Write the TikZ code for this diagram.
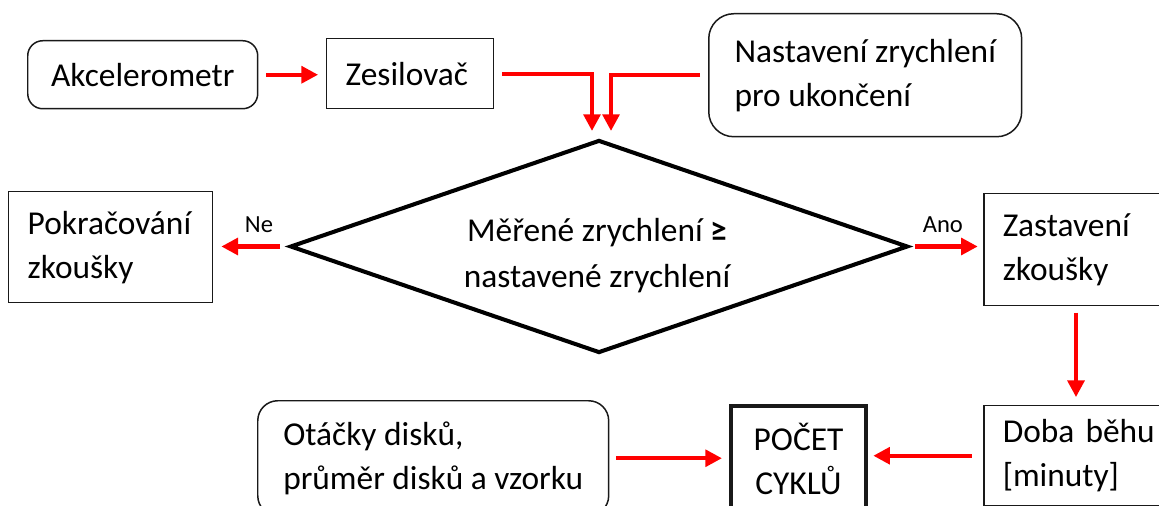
\documentclass[tikz,border=0pt]{standalone}
\usepackage{fontspec}
\setmainfont{Carlito}
\usepackage{tikz}
\usetikzlibrary{calc,arrows.meta,positioning,shapes.geometric}
\definecolor{flowRed}{RGB}{255,0,0}
\definecolor{flowInk}{RGB}{25,25,25}

\begin{document}
\begin{tikzpicture}[x=0.02cm,y=-0.02cm,
  box/.style={draw=flowInk, line width=0.85pt, anchor=north west, inner ysep=0pt,
    font=\fontsize{19}{25}\selectfont, align=left},
  roundbox/.style={box, rounded corners=#1},
  flow/.style={draw=flowRed, line width=2.3pt, -{Triangle[length=9.5pt,width=9.5pt]}},
  tag/.style={font=\fontsize{14}{16}\selectfont, inner sep=1pt}]
\useasboundingbox (0,0) rectangle (1159,506);
\clip (0,0) rectangle (1159,506);

% top row
\node[roundbox=0.3cm, minimum width=4.6cm, minimum height=1.36cm, align=center] (akc) at (27,40) {Akcelerometr};
\node[box, minimum width=3.34cm, minimum height=1.4cm, text width=2.58cm, inner xsep=0.38cm] (zes) at (326,38) {Zesilovač};
\node[roundbox=0.5cm, minimum width=6.26cm, minimum height=2.46cm] (nast) at (708,13) {Nastavení zrychlení\\pro ukončení};

% decision
\node[draw=black, line width=2.3pt, diamond, aspect=2.9, minimum width=12.36cm, minimum height=4.26cm,
  inner sep=0pt] (test) at (599,246.5) {};
\node[align=center, font=\fontsize{19}{26.6}\selectfont] (testtext) at ($(test)+(-2,9)$) {Měřené zrychlení {\bfseries ≥}\\nastavené zrychlení};
\node[box, minimum width=4.08cm, minimum height=2.22cm, text width=3.32cm, inner xsep=0.38cm] (pokr) at (8,191) {Pokračování\\zkoušky};
\node[box, minimum width=4.3cm, minimum height=2.24cm, text width=3.54cm, inner xsep=0.38cm] (zast) at (983,193) {Zastavení\\zkoušky};

% bottom row
\node[roundbox=0.4cm, minimum width=7.02cm, minimum height=2.3cm] (otacky) at (257,400) {Otáčky disků,\\průměr disků a vzorku};
\node[box, line width=2.3pt, minimum width=2.7cm, minimum height=2.1cm, align=center] (pocet) at (729,404) {POČET\\CYKLŮ};
\node[box, minimum width=4.3cm, minimum height=2.0cm, text width=3.54cm, inner xsep=0.38cm] (doba) at (983,405) {Doba běhu\\{[minuty]}};

% connectors
\draw[flow, shorten <=4.5pt, shorten >=4.5pt] (akc.east) -- (akc.east -| zes.west);
\draw[flow, shorten <=4.5pt, shorten >=4pt] (zes.east) -| ($(test.north)+(-7,0)$);
\draw[flow, shorten <=4.5pt, shorten >=4pt] (nast.west) -| ($(test.north)+(12,0)$);
\draw[flow, shorten <=4.5pt, shorten >=4.5pt] (test.west) -- (test.west -| pokr.east)
  node[tag, pos=0.39, above=5.5pt] {Ne};
\draw[flow, shorten <=3pt, shorten >=3pt] (test.east) -- (test.east -| zast.west)
  node[tag, pos=0.45, above=5.5pt] {Ano};
\draw[flow, shorten <=3.5pt, shorten >=4.5pt] ($(zast.south west)+(93,0)$) -- ($(doba.north west)+(93,0)$);
\draw[flow, shorten <=4pt, shorten >=4pt] (otacky.east) -- (otacky.east -| pocet.west);
\draw[flow, shorten <=6.5pt, shorten >=3pt] (doba.west) -- (doba.west -| pocet.east);
\end{tikzpicture}
\end{document}
